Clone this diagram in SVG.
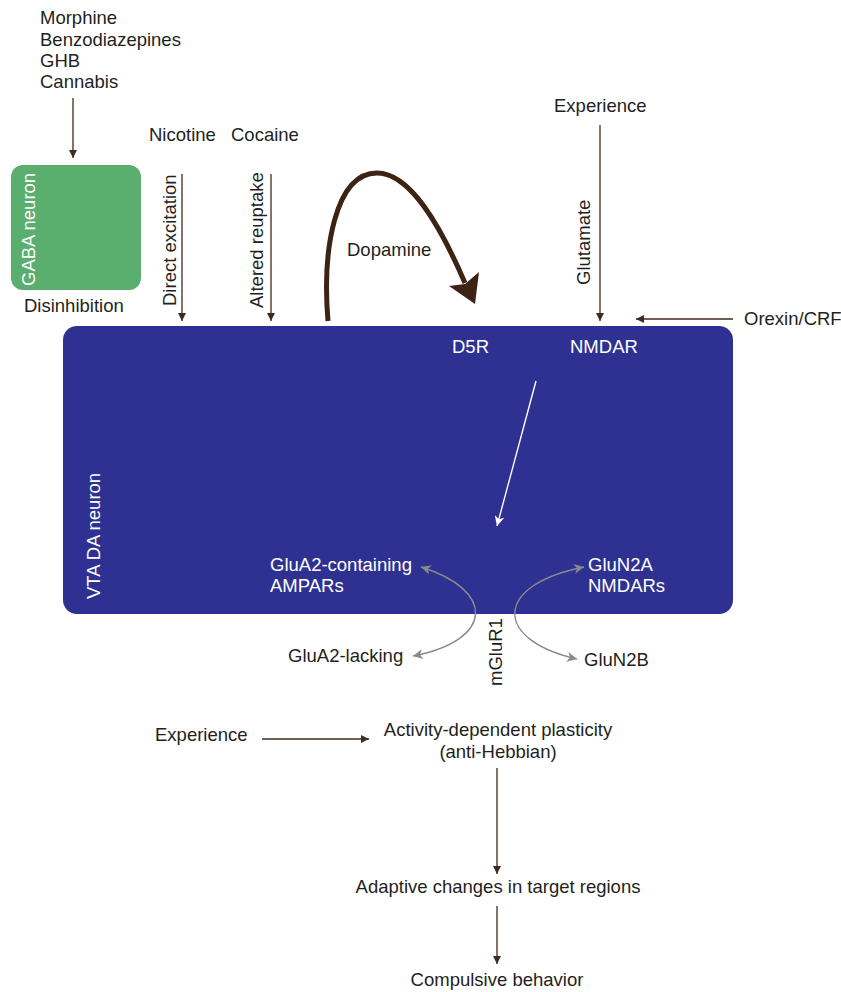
<svg xmlns="http://www.w3.org/2000/svg" width="841" height="992" viewBox="0 0 841 992">
<style>
text{font-family:"Liberation Sans",Arial,sans-serif;font-size:18.5px;fill:#231f20}
.w{fill:#ffffff}
.br{stroke:#3f2a1e;stroke-width:1.3;fill:none}
.gr{stroke:#8a8a8a;stroke-width:1.4;fill:none}
.c{text-anchor:middle}
</style>
<defs>
<marker id="ab" viewBox="0 0 10 10" refX="10" refY="5" markerWidth="8" markerHeight="8" markerUnits="userSpaceOnUse" orient="auto"><path d="M0,0 L10,5 L0,10 Z" fill="#3f2a1e"/></marker>
<marker id="ag" viewBox="0 0 10 10" refX="10" refY="5" markerWidth="10" markerHeight="10" markerUnits="userSpaceOnUse" orient="auto-start-reverse"><path d="M0,0 L10,5 L0,10 L3,5 Z" fill="#8a8a8a"/></marker>
<marker id="aw" viewBox="0 0 10 10" refX="10" refY="5" markerWidth="10" markerHeight="10" markerUnits="userSpaceOnUse" orient="auto"><path d="M0,0 L10,5 L0,10 L3,5 Z" fill="#ffffff"/></marker>
</defs>
<g id="vta"><rect x="63" y="326" width="670" height="288" rx="14" fill="#2e3192"/>
<text class="w" transform="translate(100,599) rotate(-90)">VTA DA neuron</text>
<text class="w" x="452" y="353">D5R</text>
<text class="w" x="570" y="353">NMDAR</text>
<text class="w" x="270" y="571">GluA2-containing</text>
<text class="w" x="270" y="592">AMPARs</text>
<text class="w" x="588" y="571">GluN2A</text>
<text class="w" x="588" y="592">NMDARs</text>
</g>
<g id="gaba"><rect x="11" y="165" width="130" height="125" rx="12" fill="#5aae6e"/>
<text class="w" transform="translate(35,286) rotate(-90)">GABA neuron</text>
</g>
<g id="labels">
<text x="40" y="24">Morphine</text>
<text x="40" y="46">Benzodiazepines</text>
<text x="40" y="67">GHB</text>
<text x="40" y="88">Cannabis</text>
<text x="24" y="312">Disinhibition</text>
<text x="149" y="141">Nicotine</text>
<text x="231" y="141">Cocaine</text>
<text transform="translate(176,306) rotate(-90)">Direct excitation</text>
<text transform="translate(263,308) rotate(-90)">Altered reuptake</text>
<text x="347" y="256">Dopamine</text>
<text x="554" y="112">Experience</text>
<text transform="translate(590,285) rotate(-90)">Glutamate</text>
<text x="744" y="325">Orexin/CRF</text>
<text x="288" y="662">GluA2-lacking</text>
<text x="584" y="666">GluN2B</text>
<text transform="translate(502,686) rotate(-90)">mGluR1</text>
<text x="155" y="741">Experience</text>
<text class="c" x="498" y="736">Activity-dependent plasticity</text>
<text class="c" x="498" y="758">(anti-Hebbian)</text>
<text class="c" x="498" y="893">Adaptive changes in target regions</text>
<text class="c" x="497" y="986">Compulsive behavior</text>
</g>
<g id="connectors">
<line class="br" x1="73" y1="98" x2="73" y2="158" marker-end="url(#ab)"/>
<line class="br" x1="182" y1="174" x2="182" y2="321" marker-end="url(#ab)"/>
<line class="br" x1="271" y1="174" x2="271" y2="321" marker-end="url(#ab)"/>
<line class="br" x1="600" y1="125" x2="600" y2="321" marker-end="url(#ab)"/>
<line class="br" x1="733" y1="319" x2="636" y2="319" marker-end="url(#ab)"/>
<line class="br" x1="262" y1="739" x2="369" y2="739" marker-end="url(#ab)"/>
<line class="br" x1="497" y1="768" x2="497" y2="874" marker-end="url(#ab)"/>
<line class="br" x1="497" y1="906" x2="497" y2="964" marker-end="url(#ab)"/>
<path d="M328,321 C322,250 335,173 377,173 C410,173 440,225 465,283" stroke="#3d2314" stroke-width="5" fill="none"/>
<path d="M475,304 L449,286 L465,284 L479,272 Z" fill="#3d2314"/>
<line x1="536" y1="381" x2="497" y2="526" stroke="#ffffff" stroke-width="1.4" marker-end="url(#aw)"/>
<path class="gr" d="M421,567 C495,590 495,640 413,656" marker-start="url(#ag)" marker-end="url(#ag)"/>
<path class="gr" d="M584,567 C493,585 493,640 577,659" marker-start="url(#ag)" marker-end="url(#ag)"/>
</g>
</svg>
